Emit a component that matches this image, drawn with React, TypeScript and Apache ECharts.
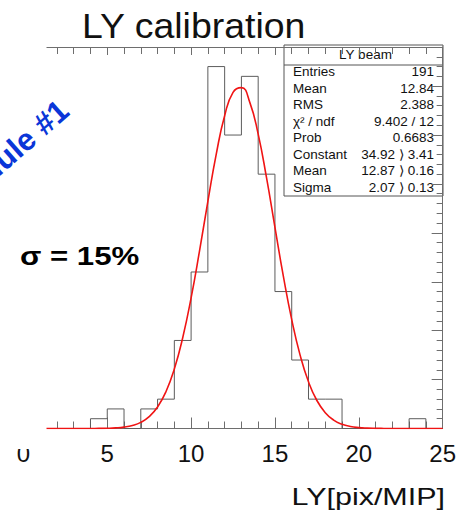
import React, { useEffect, useRef } from "react";
import * as echarts from "echarts";

// Histogram: lower bin edges (bin width 1) and entries per bin
const binEdges = [0, 1, 2, 3, 4, 5, 6, 7, 8, 9, 10, 11, 12, 13, 14, 15, 16, 17, 18, 19, 20, 21, 22, 23, 24];
const counts = [0, 0, 0, 0, 1, 2, 0, 2, 3, 9, 16, 37, 30, 36, 26, 14, 7, 3, 3, 0, 0, 0, 0, 1, 0];

// Gaussian fit curve
const fitX = [0, 1, 2, 3, 3.5, 4, 4.5, 5, 5.5, 6, 6.5, 7, 7.5, 8, 8.5, 9, 9.5, 10, 10.5, 11, 11.5, 12, 12.5, 13, 13.5, 14, 14.5, 15, 15.5, 16, 16.5, 17, 17.5, 18, 18.5, 19, 19.5, 20, 20.5, 21, 21.5, 22, 23, 24, 25];
const fitY = [0, 0, 0, 0, 0.001, 0.004, 0.01, 0.025, 0.062, 0.142, 0.307, 0.626, 1.207, 2.194, 3.76, 6.083, 9.282, 13.35, 18.13, 23.22, 28.05, 31.97, 34.37, 34.85, 33.34, 30.09, 25.61, 20.57, 15.58, 11.13, 7.5, 4.771, 2.862, 1.62, 0.864, 0.435, 0.207, 0.093, 0.039, 0.015, 0.006, 0.002, 0, 0, 0];

// Statistics box
const statTitle = "LY beam";
const statNames = ["Entries", "Mean", "RMS", "χ² / ndf", "Prob", "Constant", "Mean", "Sigma"];
const statValues = ["191", "12.84", "2.388", "9.402 / 12", "0.6683", "34.92 ⟩ 3.41", "12.87 ⟩ 0.16", "2.07 ⟩ 0.13"];

const titleText = "LY calibration";
const xAxisName = "LY[pix/MIP]";
const sigmaText = "σ = 15%";
const moduleText = "Module #1";

export default function App() {
  const ref = useRef<HTMLDivElement>(null);
  useEffect(() => {
    if (!ref.current) return;
    const chart = echarts.init(ref.current, null, { renderer: "svg" });
    const font = "'Liberation Sans', Arial, Helvetica, sans-serif";
    const histData: number[][] = binEdges.map((e, i) => [e, counts[i]]);
    histData.push([binEdges[binEdges.length - 1] + 1, counts[counts.length - 1]]);
    const fitData = fitX.map((x, i) => [x, fitY[i]]);

    const frame = "#6e6e6e";
    const boxX = 284, boxY = 45, boxW = 159, boxH = 151;
    const rowY0 = 72, rowStep = 16.5;
    const statEls: any[] = [
      { type: "rect", shape: { x: boxX, y: boxY, width: boxW, height: boxH }, style: { fill: "#fff", stroke: "#555", lineWidth: 1 } },
      { type: "line", shape: { x1: boxX, y1: 65, x2: boxX + boxW, y2: 65 }, style: { stroke: "#555", lineWidth: 1 } },
      { type: "text", x: boxX + boxW / 2 + 2, y: 55, scaleX: 1.08, style: { text: statTitle, font: `12.5px ${font}`, fill: "#111", textAlign: "center", textVerticalAlign: "middle" } },
    ];
    statNames.forEach((n, i) => {
      statEls.push({ type: "text", x: 293, y: rowY0 + i * rowStep, scaleX: 1.08, style: { text: n, font: `12.5px ${font}`, fill: "#111", textAlign: "left", textVerticalAlign: "middle" } });
      statEls.push({ type: "text", x: 434, y: rowY0 + i * rowStep, scaleX: 1.08, style: { text: statValues[i], font: `12.5px ${font}`, fill: "#111", textAlign: "right", textVerticalAlign: "middle" } });
    });

    chart.setOption({
      animation: false,
      backgroundColor: "#fff",
      grid: { left: 23.4, right: 16.2, top: 47, bottom: 81.5, containLabel: false },
      xAxis: [
        {
          type: "value", min: 0, max: 25, interval: 5, position: "bottom",
          axisLine: { show: true, onZero: false, lineStyle: { color: frame, width: 1 } },
          axisTick: { show: true, inside: true, length: 11, lineStyle: { color: frame } },
          minorTick: { show: true, splitNumber: 5, length: 7, lineStyle: { color: frame } },
          axisLabel: { show: true, margin: 13, fontSize: 24, color: "#111", fontFamily: font },
          splitLine: { show: false },
        },
        {
          type: "value", min: 0, max: 25, interval: 5, position: "top",
          axisLine: { show: true, onZero: false, lineStyle: { color: frame, width: 1 } },
          axisTick: { show: true, inside: true, length: 8, lineStyle: { color: frame } },
          minorTick: { show: true, splitNumber: 5, length: 7, lineStyle: { color: frame } },
          axisLabel: { show: false },
          splitLine: { show: false },
        },
      ],
      yAxis: {
        type: "value", min: 0, max: 39, interval: 5, position: "right",
        axisLine: { show: true, onZero: false, lineStyle: { color: frame, width: 1 } },
        axisTick: { show: true, inside: true, length: 11, lineStyle: { color: frame } },
        minorTick: { show: true, splitNumber: 5, length: 6, lineStyle: { color: frame } },
        axisLabel: { show: false },
        splitLine: { show: false },
      },
      series: [
        {
          type: "line", xAxisIndex: 0, yAxisIndex: 0, data: histData, step: "end", symbol: "none",
          lineStyle: { color: "#5c5c5c", width: 1 }, z: 3,
        },
        {
          type: "line", xAxisIndex: 0, yAxisIndex: 0, data: fitData, smooth: true, symbol: "none",
          lineStyle: { color: "#f01414", width: 1.6 }, z: 4,
        },
      ],
      graphic: [
        { type: "rect", z: 50, shape: { x: 0, y: 0, width: 46.5, height: 449 }, style: { fill: "#fff" } },
        { type: "group", z: 60, children: statEls },
        { type: "text", z: 60, x: 82, y: 25.5, scaleX: 1.07, style: { text: titleText, font: `35px ${font}`, fill: "#111", textAlign: "left", textVerticalAlign: "middle" } },
        { type: "text", z: 60, x: 445, y: 497, scaleX: 1.27, style: { text: xAxisName, font: `24px ${font}`, fill: "#111", textAlign: "right", textVerticalAlign: "middle" } },
        { type: "text", z: 70, x: 20, y: 256, scaleX: 1.2, style: { text: sigmaText, font: `bold 26px ${font}`, fill: "#000", textAlign: "left", textVerticalAlign: "middle" } },
        { type: "text", z: 70, x: 64, y: 106, rotation: 0.72, style: { text: moduleText, font: `bold 31px ${font}`, fill: "#0a36d8", textAlign: "right", textVerticalAlign: "middle" } },
      ],
    });
    return () => chart.dispose();
  }, []);
  return <div ref={ref} style={{ position: "absolute", left: 0, top: 0, width: 459, height: 510 }} />;
}
